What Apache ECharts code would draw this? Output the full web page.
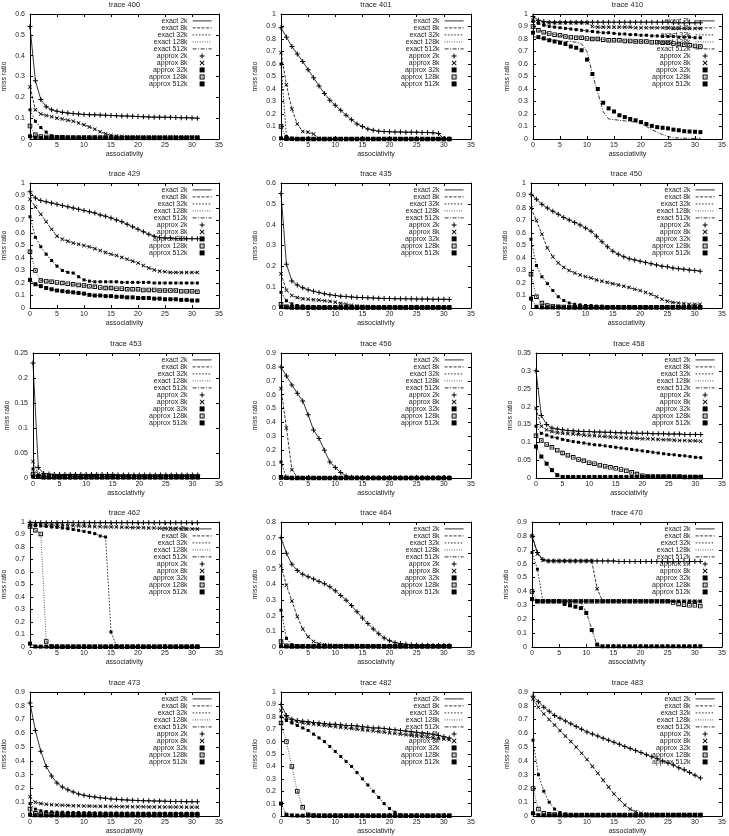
<!DOCTYPE html>
<html>
<head>
<meta charset="utf-8">
<script src="https://cdn.jsdelivr.net/npm/echarts@6/dist/echarts.min.js"></script>
<style>
html, body { margin: 0; padding: 0; background: #fff; }
#chart { width: 729px; height: 836px; }
</style>
</head>
<body>
<div id="chart"></div>
<script>
// associativity values on the x axis
const assoc = [0,1,2,3,4,5,6,7,8,9,10,11,12,13,14,15,16,17,18,19,20,21,22,23,24,25,26,27,28,29,30,31];
const cacheSizes = ['2k', '8k', '32k', '128k', '512k'];
const traceNames = ['trace 400', 'trace 401', 'trace 410', 'trace 429', 'trace 435', 'trace 450',
    'trace 453', 'trace 456', 'trace 458', 'trace 462', 'trace 464', 'trace 470',
    'trace 473', 'trace 482', 'trace 483'];
const yMaxes = [0.6, 1, 1, 1, 0.6, 1, 0.25, 0.9, 0.35, 1, 0.8, 0.9, 0.9, 1, 0.9];
const ySteps = [0.1, 0.1, 0.1, 0.1, 0.1, 0.1, 0.05, 0.1, 0.05, 0.1, 0.1, 0.1, 0.1, 0.1, 0.1];
const xTicks = [0, 5, 10, 15, 20, 25, 30, 35];

// exact miss ratio curves, one row per cache size (2k, 8k, 32k, 128k, 512k)
const exact400 = [
    [0.54,0.28,0.19,0.155,0.14,0.133,0.128,0.125, 0.122,0.12,0.118,0.117,0.116,0.115,0.114,0.113,
     0.112,0.111,0.11,0.109,0.108,0.107,0.106,0.105, 0.105,0.104,0.104,0.103,0.102,0.102,0.101,0.1],
    [0.25,0.14,0.12,0.113,0.107,0.1,0.096,0.09, 0.085,0.077,0.068,0.058,0.047,0.035,0.025,0.018,
     0.014,0.012,0.011,0.011,0.011,0.01,0.01,0.01, 0.01,0.01,0.01,0.01,0.01,0.01,0.01,0.01],
    [0.14,0.085,0.055,0.033,0.016,0.01,0.008,0.008, 0.007,0.007,0.007,0.007,0.007,0.007,0.007,0.007,
     0.007,0.007,0.007,0.007,0.007,0.007,0.007,0.007, 0.007,0.007,0.007,0.007,0.007,0.007,0.007,0.007],
    [0.062,0.02,0.012,0.01,0.009,0.008,0.008,0.007, 0.007,0.007,0.007,0.007,0.007,0.007,0.007,0.007,
     0.006,0.006,0.006,0.006,0.006,0.006,0.006,0.006, 0.006,0.006,0.006,0.006,0.006,0.006,0.006,0.006],
    [0.013,0.007,0.005,0.005,0.005,0.005,0.005,0.005, 0.005,0.005,0.005,0.005,0.005,0.005,0.005,0.005,
     0.004,0.004,0.004,0.004,0.004,0.004,0.004,0.004, 0.004,0.004,0.004,0.004,0.004,0.004,0.004,0.004]
];
const exact401 = [
    [0.89,0.815,0.74,0.68,0.62,0.555,0.49,0.425, 0.365,0.31,0.27,0.23,0.19,0.155,0.12,0.1,
     0.08,0.07,0.063,0.06,0.058,0.057,0.056,0.055, 0.055,0.054,0.053,0.052,0.05,0.045,0,0],
    [0.69,0.435,0.24,0.12,0.06,0.055,0.04,0.005, 0.002,0,0,0,0,0,0,0,
     0,0,0,0,0,0,0,0, 0,0,0,0,0,0,0,0],
    [0.6,0.02,0.004,0.002,0,0,0,0, 0,0,0,0,0,0,0,0,
     0,0,0,0,0,0,0,0, 0,0,0,0,0,0,0,0],
    [0.1,0.004,0.002,0,0,0,0,0, 0,0,0,0,0,0,0,0,
     0,0,0,0,0,0,0,0, 0,0,0,0,0,0,0,0],
    [0.005,0.001,0,0,0,0,0,0, 0,0,0,0,0,0,0,0,
     0,0,0,0,0,0,0,0, 0,0,0,0,0,0,0,0]
];
const exact410 = [
    [0.98,0.95,0.94,0.935,0.935,0.935,0.935,0.935, 0.935,0.935,0.935,0.935,0.935,0.935,0.935,0.935,
     0.935,0.935,0.935,0.935,0.935,0.935,0.935,0.935, 0.935,0.935,0.93,0.93,0.93,0.93,0.93,0.93],
    [0.95,0.935,0.93,0.93,0.93,0.93,0.93,0.93, 0.93,0.93,0.93,0.9,0.895,0.895,0.895,0.895,
     0.895,0.895,0.895,0.89,0.89,0.89,0.89,0.89, 0.89,0.89,0.885,0.885,0.885,0.885,0.885,0.885],
    [0.94,0.925,0.91,0.9,0.895,0.89,0.885,0.88, 0.875,0.87,0.865,0.86,0.855,0.85,0.85,0.845,
     0.84,0.84,0.835,0.835,0.83,0.83,0.825,0.825, 0.82,0.82,0.82,0.815,0.815,0.815,0.81,0.81],
    [0.9,0.87,0.855,0.845,0.835,0.83,0.82,0.815, 0.81,0.81,0.805,0.8,0.8,0.795,0.79,0.79,
     0.79,0.785,0.785,0.78,0.78,0.78,0.775,0.775, 0.77,0.77,0.765,0.76,0.755,0.75,0.745,0.74],
    [0.82,0.81,0.8,0.795,0.79,0.785,0.78,0.78, 0.775,0.76,0.7,0.52,0.37,0.22,0.16,0.155,
     0.15,0.145,0.14,0.135,0.125,0.1,0.075,0.055, 0.035,0.02,0.01,0.008,0.006,0.005,0.005,0.005]
];
const exact429 = [
    [0.93,0.88,0.86,0.85,0.84,0.83,0.82,0.81, 0.8,0.79,0.78,0.77,0.76,0.745,0.735,0.72,
     0.705,0.69,0.67,0.65,0.63,0.61,0.59,0.575, 0.565,0.56,0.56,0.555,0.555,0.555,0.555,0.555],
    [0.87,0.81,0.75,0.69,0.63,0.575,0.55,0.535, 0.52,0.51,0.5,0.49,0.475,0.46,0.445,0.43,
     0.42,0.405,0.39,0.375,0.36,0.34,0.32,0.305, 0.295,0.29,0.285,0.285,0.285,0.285,0.285,0.285],
    [0.73,0.565,0.49,0.43,0.38,0.335,0.3,0.285, 0.28,0.25,0.225,0.215,0.21,0.21,0.21,0.21,
     0.21,0.205,0.205,0.205,0.205,0.205,0.205,0.2, 0.2,0.2,0.2,0.2,0.2,0.2,0.2,0.2],
    [0.45,0.3,0.22,0.215,0.21,0.205,0.2,0.195, 0.19,0.185,0.18,0.175,0.17,0.165,0.16,0.16,
     0.155,0.155,0.15,0.15,0.15,0.145,0.145,0.145, 0.14,0.14,0.14,0.14,0.135,0.135,0.135,0.13],
    [0.225,0.19,0.175,0.16,0.15,0.14,0.135,0.13, 0.125,0.12,0.115,0.105,0.1,0.1,0.095,0.095,
     0.09,0.09,0.085,0.085,0.08,0.08,0.08,0.075, 0.075,0.07,0.07,0.07,0.065,0.065,0.06,0.06]
];
const exact435 = [
    [0.55,0.21,0.13,0.11,0.097,0.088,0.08,0.074, 0.068,0.064,0.06,0.057,0.055,0.053,0.051,0.05,
     0.049,0.048,0.047,0.046,0.046,0.045,0.045,0.044, 0.044,0.043,0.043,0.043,0.042,0.042,0.042,0.041],
    [0.165,0.085,0.06,0.05,0.045,0.042,0.04,0.038, 0.035,0.032,0.028,0.022,0.018,0.013,0.01,0.008,
     0.007,0.006,0.005,0.005,0.005,0.005,0.005,0.005, 0.005,0.005,0.005,0.005,0.005,0.005,0.005,0.005],
    [0.075,0.035,0.02,0.012,0.01,0.008,0.007,0.006, 0.005,0.005,0.005,0.005,0.005,0.005,0.005,0.005,
     0.005,0.005,0.005,0.005,0.005,0.005,0.005,0.005, 0.005,0.005,0.005,0.005,0.005,0.005,0.005,0.005],
    [0.018,0.006,0.004,0.004,0.003,0.003,0.003,0.003, 0.003,0.003,0.003,0.003,0.003,0.003,0.003,0.003,
     0.003,0.003,0.003,0.003,0.003,0.003,0.003,0.003, 0.003,0.003,0.003,0.003,0.003,0.003,0.003,0.003],
    [0.005,0.003,0.002,0.002,0.002,0.002,0.002,0.002, 0.002,0.002,0.002,0.002,0.002,0.002,0.002,0.002,
     0.002,0.002,0.002,0.002,0.002,0.002,0.002,0.002, 0.002,0.002,0.002,0.002,0.002,0.002,0.002,0.002]
];
const exact450 = [
    [0.91,0.87,0.83,0.8,0.775,0.75,0.725,0.705, 0.685,0.665,0.64,0.615,0.575,0.53,0.49,0.455,
     0.43,0.41,0.395,0.385,0.375,0.365,0.355,0.345, 0.335,0.33,0.32,0.315,0.31,0.305,0.3,0.295],
    [0.8,0.7,0.59,0.48,0.41,0.36,0.325,0.3, 0.28,0.265,0.25,0.24,0.225,0.215,0.205,0.195,
     0.185,0.175,0.165,0.15,0.14,0.125,0.11,0.09, 0.07,0.055,0.045,0.04,0.035,0.03,0.03,0.03],
    [0.55,0.34,0.25,0.195,0.14,0.09,0.06,0.04, 0.03,0.025,0.02,0.02,0.015,0.015,0.012,0.01,
     0.01,0.01,0.01,0.01,0.01,0.01,0.01,0.01, 0.01,0.01,0.01,0.01,0.01,0.01,0.01,0.01],
    [0.27,0.09,0.04,0.02,0.015,0.01,0.008,0.007, 0.006,0.006,0.006,0.006,0.006,0.006,0.006,0.006,
     0.006,0.006,0.006,0.006,0.006,0.006,0.006,0.006, 0.006,0.006,0.006,0.006,0.006,0.006,0.006,0.006],
    [0.075,0.01,0.005,0.004,0.004,0.004,0.004,0.004, 0.004,0.004,0.004,0.004,0.004,0.004,0.004,0.004,
     0.004,0.004,0.004,0.004,0.004,0.004,0.004,0.004, 0.004,0.004,0.004,0.004,0.004,0.004,0.004,0.004]
];
const exact453 = [
    [0.23,0.021,0.009,0.008,0.007,0.007,0.007,0.007, 0.007,0.007,0.007,0.007,0.007,0.007,0.007,0.007,
     0.006,0.006,0.006,0.006,0.006,0.006,0.006,0.006, 0.006,0.006,0.006,0.006,0.006,0.006,0.006,0.006],
    [0.033,0.008,0.005,0.005,0.005,0.005,0.005,0.005, 0.005,0.005,0.005,0.005,0.005,0.005,0.005,0.005,
     0.004,0.004,0.004,0.004,0.004,0.004,0.004,0.004, 0.004,0.004,0.004,0.004,0.004,0.004,0.004,0.004],
    [0.018,0.005,0.004,0.003,0.003,0.003,0.003,0.003, 0.003,0.003,0.003,0.003,0.003,0.003,0.003,0.003,
     0.003,0.003,0.003,0.003,0.003,0.003,0.003,0.003, 0.003,0.003,0.003,0.003,0.003,0.003,0.003,0.003],
    [0.008,0.003,0.002,0.002,0.002,0.002,0.002,0.002, 0.002,0.002,0.002,0.002,0.002,0.002,0.002,0.002,
     0.002,0.002,0.002,0.002,0.002,0.002,0.002,0.002, 0.002,0.002,0.002,0.002,0.002,0.002,0.002,0.002],
    [0.003,0.002,0.001,0.001,0.001,0.001,0.001,0.001, 0.001,0.001,0.001,0.001,0.001,0.001,0.001,0.001,
     0.001,0.001,0.001,0.001,0.001,0.001,0.001,0.001, 0.001,0.001,0.001,0.001,0.001,0.001,0.001,0.001]
];
const exact456 = [
    [0.8,0.735,0.67,0.61,0.555,0.455,0.345,0.285, 0.2,0.115,0.075,0.04,0.015,0.005,0.003,0.002,
     0.001,0.001,0.001,0.001,0.001,0.001,0.001,0.001, 0.001,0.001,0.001,0.001,0.001,0.001,0.001,0.001],
    [0.645,0.36,0.06,0.005,0.001,0,0,0, 0,0,0,0,0,0,0,0,
     0,0,0,0,0,0,0,0, 0,0,0,0,0,0,0,0],
    [0.115,0.003,0,0,0,0,0,0, 0,0,0,0,0,0,0,0,
     0,0,0,0,0,0,0,0, 0,0,0,0,0,0,0,0],
    [0.005,0.001,0,0,0,0,0,0, 0,0,0,0,0,0,0,0,
     0,0,0,0,0,0,0,0, 0,0,0,0,0,0,0,0],
    [0.002,0,0,0,0,0,0,0, 0,0,0,0,0,0,0,0,
     0,0,0,0,0,0,0,0, 0,0,0,0,0,0,0,0]
];
const exact458 = [
    [0.3,0.175,0.15,0.14,0.137,0.135,0.133,0.132, 0.131,0.13,0.13,0.129,0.129,0.128,0.128,0.127,
     0.127,0.126,0.126,0.125,0.125,0.125,0.124,0.124, 0.124,0.123,0.123,0.123,0.122,0.122,0.122,0.122],
    [0.195,0.145,0.135,0.13,0.127,0.125,0.124,0.123, 0.122,0.12,0.119,0.118,0.117,0.116,0.115,0.114,
     0.113,0.112,0.112,0.111,0.11,0.11,0.109,0.108, 0.107,0.107,0.106,0.105,0.105,0.104,0.104,0.103],
    [0.145,0.125,0.12,0.115,0.112,0.108,0.105,0.102, 0.1,0.098,0.095,0.093,0.092,0.09,0.088,0.086,
     0.084,0.082,0.08,0.078,0.076,0.074,0.072,0.07, 0.068,0.066,0.065,0.063,0.062,0.06,0.058,0.057],
    [0.118,0.105,0.094,0.086,0.078,0.07,0.064,0.058, 0.052,0.048,0.043,0.04,0.036,0.033,0.03,0.027,
     0.024,0.02,0.016,0.011,0.006,0.005,0.004,0.004, 0.004,0.004,0.004,0.004,0.003,0.003,0.003,0.003],
    [0.088,0.06,0.04,0.022,0.008,0.003,0.003,0.003, 0.003,0.003,0.003,0.003,0.003,0.003,0.003,0.003,
     0.003,0.003,0.003,0.003,0.003,0.003,0.003,0.003, 0.003,0.003,0.003,0.003,0.003,0.003,0.003,0.003]
];
const exact462 = [
    [0.998,0.995,0.995,0.995,0.995,0.995,0.995,0.995, 0.995,0.995,0.995,0.995,0.995,0.995,0.995,0.995,
     0.995,0.995,0.995,0.995,0.995,0.995,0.995,0.995, 0.995,0.995,0.995,0.995,0.995,0.995,0.995,0.995],
    [0.985,0.98,0.98,0.978,0.975,0.975,0.972,0.97, 0.97,0.968,0.967,0.965,0.963,0.962,0.96,0.96,
     0.96,0.958,0.957,0.955,0.955,0.955,0.953,0.952, 0.95,0.95,0.95,0.948,0.947,0.945,0.945,0.945],
    [0.975,0.97,0.968,0.965,0.96,0.957,0.952,0.947, 0.94,0.933,0.925,0.917,0.907,0.888,0.88,0.12,
     0.01,0.005,0.005,0.005,0.004,0.004,0.004,0.004, 0.004,0.004,0.004,0.004,0.004,0.004,0.004,0.004],
    [0.965,0.935,0.905,0.045,0.005,0.003,0.003,0.003, 0.003,0.003,0.003,0.003,0.003,0.003,0.003,0.003,
     0.003,0.003,0.003,0.003,0.003,0.003,0.003,0.003, 0.003,0.003,0.003,0.003,0.003,0.003,0.003,0.003],
    [0.027,0.004,0.003,0.003,0.003,0.003,0.003,0.003, 0.003,0.003,0.003,0.003,0.003,0.003,0.003,0.003,
     0.003,0.003,0.003,0.003,0.003,0.003,0.003,0.003, 0.003,0.003,0.003,0.003,0.003,0.003,0.003,0.003]
];
const exact464 = [
    [0.7,0.6,0.53,0.49,0.465,0.45,0.435,0.42, 0.405,0.385,0.36,0.33,0.3,0.265,0.225,0.185,
     0.15,0.115,0.085,0.058,0.04,0.028,0.022,0.018, 0.015,0.013,0.012,0.011,0.01,0.01,0.01,0.01],
    [0.52,0.395,0.295,0.195,0.115,0.065,0.035,0.02, 0.015,0.012,0.01,0.01,0.01,0.009,0.009,0.009,
     0.008,0.008,0.008,0.008,0.008,0.008,0.008,0.008, 0.008,0.008,0.008,0.008,0.008,0.008,0.008,0.008],
    [0.235,0.055,0.015,0.01,0.008,0.008,0.008,0.008, 0.007,0.007,0.007,0.007,0.007,0.007,0.007,0.007,
     0.007,0.007,0.007,0.007,0.007,0.007,0.007,0.007, 0.007,0.007,0.007,0.007,0.007,0.007,0.007,0.007],
    [0.035,0.008,0.005,0.005,0.005,0.005,0.005,0.005, 0.005,0.005,0.005,0.005,0.005,0.005,0.005,0.005,
     0.005,0.005,0.005,0.005,0.005,0.005,0.005,0.005, 0.005,0.005,0.005,0.005,0.005,0.005,0.005,0.005],
    [0.005,0.003,0.003,0.003,0.003,0.003,0.003,0.003, 0.003,0.003,0.003,0.003,0.003,0.003,0.003,0.003,
     0.003,0.003,0.003,0.003,0.003,0.003,0.003,0.003, 0.003,0.003,0.003,0.003,0.003,0.003,0.003,0.003]
];
const exact470 = [
    [0.8,0.68,0.63,0.62,0.62,0.62,0.62,0.62, 0.62,0.62,0.62,0.62,0.62,0.62,0.62,0.62,
     0.615,0.615,0.615,0.615,0.615,0.615,0.615,0.615, 0.615,0.615,0.615,0.615,0.615,0.615,0.615,0.615],
    [0.8,0.67,0.625,0.62,0.62,0.62,0.62,0.62, 0.62,0.62,0.62,0.62,0.42,0.33,0.33,0.33,
     0.33,0.33,0.33,0.33,0.33,0.33,0.33,0.33, 0.33,0.33,0.33,0.33,0.33,0.33,0.33,0.33],
    [0.68,0.56,0.33,0.33,0.33,0.33,0.33,0.33, 0.33,0.33,0.33,0.33,0.33,0.33,0.33,0.33,
     0.33,0.33,0.33,0.33,0.33,0.33,0.33,0.33, 0.33,0.33,0.33,0.33,0.33,0.33,0.33,0.33],
    [0.4,0.33,0.33,0.33,0.33,0.33,0.33,0.33, 0.33,0.33,0.33,0.33,0.33,0.33,0.33,0.33,
     0.33,0.33,0.33,0.33,0.33,0.33,0.33,0.33, 0.33,0.33,0.33,0.325,0.325,0.32,0.32,0.32],
    [0.345,0.33,0.33,0.33,0.33,0.33,0.33,0.33, 0.33,0.32,0.25,0.13,0.01,0.005,0.005,0.005,
     0.005,0.005,0.005,0.005,0.005,0.005,0.005,0.005, 0.005,0.005,0.005,0.005,0.005,0.005,0.005,0.005]
];
const exact473 = [
    [0.82,0.62,0.47,0.36,0.29,0.24,0.21,0.19, 0.175,0.16,0.15,0.143,0.137,0.132,0.128,0.124,
     0.121,0.118,0.116,0.114,0.112,0.111,0.11,0.109, 0.108,0.107,0.106,0.105,0.105,0.104,0.104,0.103],
    [0.14,0.1,0.09,0.085,0.082,0.08,0.078,0.077, 0.075,0.074,0.073,0.072,0.071,0.07,0.07,0.069,
     0.069,0.068,0.068,0.067,0.067,0.067,0.066,0.066, 0.066,0.065,0.065,0.065,0.065,0.064,0.064,0.064],
    [0.09,0.05,0.038,0.032,0.03,0.028,0.027,0.026, 0.025,0.025,0.024,0.024,0.023,0.023,0.022,0.022,
     0.022,0.021,0.021,0.021,0.021,0.02,0.02,0.02, 0.02,0.02,0.02,0.02,0.02,0.02,0.02,0.02],
    [0.05,0.02,0.015,0.013,0.012,0.011,0.011,0.011, 0.01,0.01,0.01,0.01,0.01,0.01,0.01,0.01,
     0.01,0.01,0.01,0.01,0.01,0.01,0.01,0.01, 0.01,0.01,0.01,0.01,0.01,0.01,0.01,0.01],
    [0.01,0.005,0.004,0.004,0.004,0.004,0.004,0.004, 0.004,0.004,0.004,0.004,0.004,0.004,0.004,0.004,
     0.004,0.004,0.004,0.004,0.004,0.004,0.004,0.004, 0.004,0.004,0.004,0.004,0.004,0.004,0.004,0.004]
];
const exact482 = [
    [0.9,0.81,0.78,0.77,0.765,0.76,0.755,0.75, 0.745,0.74,0.74,0.735,0.73,0.73,0.725,0.72,
     0.715,0.71,0.71,0.705,0.7,0.695,0.69,0.685, 0.68,0.675,0.67,0.665,0.66,0.65,0.64,0.63],
    [0.85,0.79,0.77,0.76,0.75,0.745,0.74,0.735, 0.73,0.725,0.72,0.715,0.71,0.705,0.7,0.695,
     0.69,0.685,0.68,0.675,0.67,0.665,0.66,0.655, 0.65,0.645,0.64,0.635,0.63,0.625,0.62,0.615],
    [0.8,0.77,0.75,0.73,0.71,0.69,0.66,0.63, 0.6,0.56,0.52,0.48,0.44,0.4,0.35,0.3,
     0.25,0.2,0.15,0.1,0.06,0.03,0.01,0.005, 0.003,0.003,0.003,0.003,0.003,0.003,0.003,0.003],
    [0.75,0.6,0.4,0.2,0.07,0.01,0.005,0.003, 0.003,0.003,0.003,0.003,0.003,0.003,0.003,0.003,
     0.003,0.003,0.003,0.003,0.003,0.003,0.003,0.003, 0.003,0.003,0.003,0.003,0.003,0.003,0.003,0.003],
    [0.1,0.01,0.005,0.003,0.003,0.003,0.003,0.003, 0.003,0.003,0.003,0.003,0.003,0.003,0.003,0.003,
     0.003,0.003,0.003,0.003,0.003,0.003,0.003,0.003, 0.003,0.003,0.003,0.003,0.003,0.003,0.003,0.003]
];
const exact483 = [
    [0.87,0.83,0.79,0.76,0.73,0.71,0.69,0.67, 0.65,0.63,0.61,0.595,0.58,0.565,0.55,0.535,
     0.52,0.505,0.49,0.475,0.46,0.445,0.43,0.415, 0.4,0.385,0.37,0.35,0.335,0.315,0.295,0.275],
    [0.85,0.79,0.74,0.7,0.66,0.62,0.58,0.54, 0.5,0.455,0.41,0.36,0.31,0.26,0.21,0.16,
     0.12,0.08,0.05,0.03,0.02,0.015,0.012,0.01, 0.01,0.01,0.01,0.01,0.01,0.01,0.01,0.01],
    [0.55,0.3,0.18,0.1,0.05,0.025,0.015,0.01, 0.008,0.008,0.008,0.008,0.008,0.008,0.008,0.008,
     0.008,0.008,0.008,0.008,0.008,0.008,0.008,0.008, 0.008,0.008,0.008,0.008,0.008,0.008,0.008,0.008],
    [0.2,0.05,0.02,0.012,0.01,0.008,0.007,0.007, 0.007,0.007,0.007,0.007,0.007,0.007,0.007,0.007,
     0.007,0.007,0.007,0.007,0.007,0.007,0.007,0.007, 0.007,0.007,0.007,0.007,0.007,0.007,0.007,0.007],
    [0.02,0.006,0.005,0.005,0.005,0.005,0.005,0.005, 0.005,0.005,0.005,0.005,0.005,0.005,0.005,0.005,
     0.005,0.005,0.005,0.005,0.005,0.005,0.005,0.005, 0.005,0.005,0.005,0.005,0.005,0.005,0.005,0.005]
];

// approximated points: where they sit on the exact curve the same row is reused
const approx410_512k = [0.85,0.815,0.805,0.79,0.78,0.77,0.76,0.74, 0.73,0.71,0.635,0.52,0.4,0.29,0.245,0.22,
    0.19,0.175,0.16,0.15,0.135,0.12,0.105,0.095, 0.09,0.085,0.075,0.07,0.062,0.06,0.058,0.055];
const approx470_128k = [0.4,0.33,0.33,0.33,0.33,0.33,0.33,0.33, 0.33,0.33,0.33,0.33,0.33,0.33,0.33,0.33,
    0.33,0.33,0.33,0.33,0.33,0.33,0.33,0.33, 0.33,0.33,0.32,0.31,0.305,0.3,0.3,0.295];
const approx470_512k = [0.345,0.33,0.33,0.33,0.33,0.33,0.31,0.3, 0.29,0.28,0.245,0.122,0.017,0.005,0.005,0.005,
    0.005,0.005,0.005,0.005,0.005,0.005,0.005,0.005, 0.005,0.005,0.005,0.005,0.005,0.005,0.005,0.005];

const exactSets = [exact400, exact401, exact410, exact429, exact435, exact450, exact453, exact456,
    exact458, exact462, exact464, exact470, exact473, exact482, exact483];
const approxSets = exactSets.slice();
approxSets[2] = [exact410[0], exact410[1], exact410[2], exact410[3], approx410_512k];
approxSets[11] = [exact470[0], exact470[1], exact470[2], approx470_128k, approx470_512k];

// ---- layout of the 5 x 3 panels (pixels) ----
const rowTops = [14, 183, 353, 522, 692];
const plotLefts = [[29, 281, 533], [29, 281, 531], [33, 281, 536], [29, 281, 532], [29, 281, 533]];
const plotRights = [219, 471, 722];
const plotHeight = 125;

const FONT = '"Liberation Sans", Arial, sans-serif';
const INK = '#222';
const lineDashes = ['solid', [3, 1.5], [1.6, 1.6], [0.8, 1.6], [4, 1.5, 1, 1.5]];
const markPaths = [
    'path://M4,0H6V4H10V6H6V10H4V6H0V4H4Z',
    'path://M0,1.4L1.4,0L5,3.6L8.6,0L10,1.4L6.4,5L10,8.6L8.6,10L5,6.4L1.4,10L0,8.6L3.6,5Z',
    'path://M0,0H10V10H0Z',
    'path://M0,0H10V10H0Z M2,2V8H8V2Z M4,4H6V6H4Z',
    'path://M0,0H10V10H0Z'
];
const markSizes = [5, 4, 3, 4.5, 4];

const exactNames = cacheSizes.map(s => 'exact ' + s);
const approxNames = cacheSizes.map(s => 'approx ' + s);

exactSets.forEach((set, i) => {
    set.concat(approxSets[i]).forEach(row => {
        if (row.length !== assoc.length) throw new Error(traceNames[i] + ' has ' + row.length + ' values');
    });
});

const option = {
    animation: false,
    backgroundColor: '#fff',
    textStyle: { fontFamily: FONT },
    grid: [], xAxis: [], yAxis: [], legend: [], series: []
};

traceNames.forEach((name, i) => {
    const r = Math.floor(i / 3), c = i % 3;
    const left = plotLefts[r][c], right = plotRights[c], top = rowTops[r];

    option.grid.push({ left: left, top: top, width: right - left, height: plotHeight });

    const axisLine = { show: true, onZero: false, lineStyle: { color: '#000', width: 1 } };
    const tick = { show: true, inside: true, length: 3, lineStyle: { color: '#000', width: 1 } };
    const label = { fontSize: 7, color: INK, fontFamily: FONT };

    option.xAxis.push({
        gridIndex: i, type: 'value', position: 'bottom',
        min: xTicks[0], max: xTicks[xTicks.length - 1], interval: xTicks[1] - xTicks[0],
        axisLine: axisLine, axisTick: tick, splitLine: { show: false },
        axisLabel: Object.assign({ margin: 3 }, label),
        name: 'associativity', nameLocation: 'middle', nameGap: 12,
        nameTextStyle: { fontSize: 7, color: INK, fontFamily: FONT }
    });
    option.xAxis.push({
        gridIndex: i, type: 'value', position: 'top',
        min: xTicks[0], max: xTicks[xTicks.length - 1], interval: xTicks[1] - xTicks[0],
        axisLine: axisLine, axisTick: tick, splitLine: { show: false },
        axisLabel: { show: false },
        name: name, nameLocation: 'middle', nameGap: 5,
        nameTextStyle: { fontSize: 7.5, color: INK, fontFamily: FONT }
    });
    option.yAxis.push({
        gridIndex: i, type: 'value', position: 'left',
        min: 0, max: yMaxes[i], interval: ySteps[i],
        axisLine: axisLine, axisTick: tick, splitLine: { show: false },
        axisLabel: Object.assign({ margin: 5 }, label),
        name: 'miss ratio', nameLocation: 'middle', nameGap: 22, nameRotate: 90,
        nameTextStyle: { fontSize: 7, color: INK, fontFamily: FONT }
    });
    option.yAxis.push({
        gridIndex: i, type: 'value', position: 'right',
        min: 0, max: yMaxes[i], interval: ySteps[i],
        axisLine: axisLine, axisTick: tick, splitLine: { show: false },
        axisLabel: { show: false }
    });

    option.legend.push({
        orient: 'vertical', align: 'right',
        right: 729 - (right - 7), top: top + 3.4,
        padding: 0, itemGap: 0, itemWidth: 19, itemHeight: 5,
        selectedMode: false,
        textStyle: { fontSize: 7, lineHeight: 6.6, color: INK, fontFamily: FONT },
        lineStyle: { width: 0.8 },
        itemStyle: { borderWidth: 0 },
        data: exactNames.concat(approxNames)
    });

    exactSets[i].forEach((vals, k) => {
        option.series.push({
            name: exactNames[k], type: 'line',
            xAxisIndex: 2 * i, yAxisIndex: 2 * i,
            data: assoc.map((x, j) => [x, vals[j]]),
            symbol: 'none', showSymbol: false, z: 2,
            itemStyle: { color: 'transparent' },
            lineStyle: { color: '#000', width: 0.8, type: lineDashes[k] }
        });
    });
    approxSets[i].forEach((vals, k) => {
        option.series.push({
            name: approxNames[k], type: 'scatter',
            xAxisIndex: 2 * i, yAxisIndex: 2 * i,
            data: assoc.map((x, j) => [x, vals[j]]),
            symbol: markPaths[k], symbolSize: markSizes[k], z: 3,
            itemStyle: { color: '#000', opacity: 1 }
        });
    });
});

const chart = echarts.init(document.getElementById('chart'), null, { renderer: 'canvas' });
chart.setOption(option);
</script>
</body>
</html>
